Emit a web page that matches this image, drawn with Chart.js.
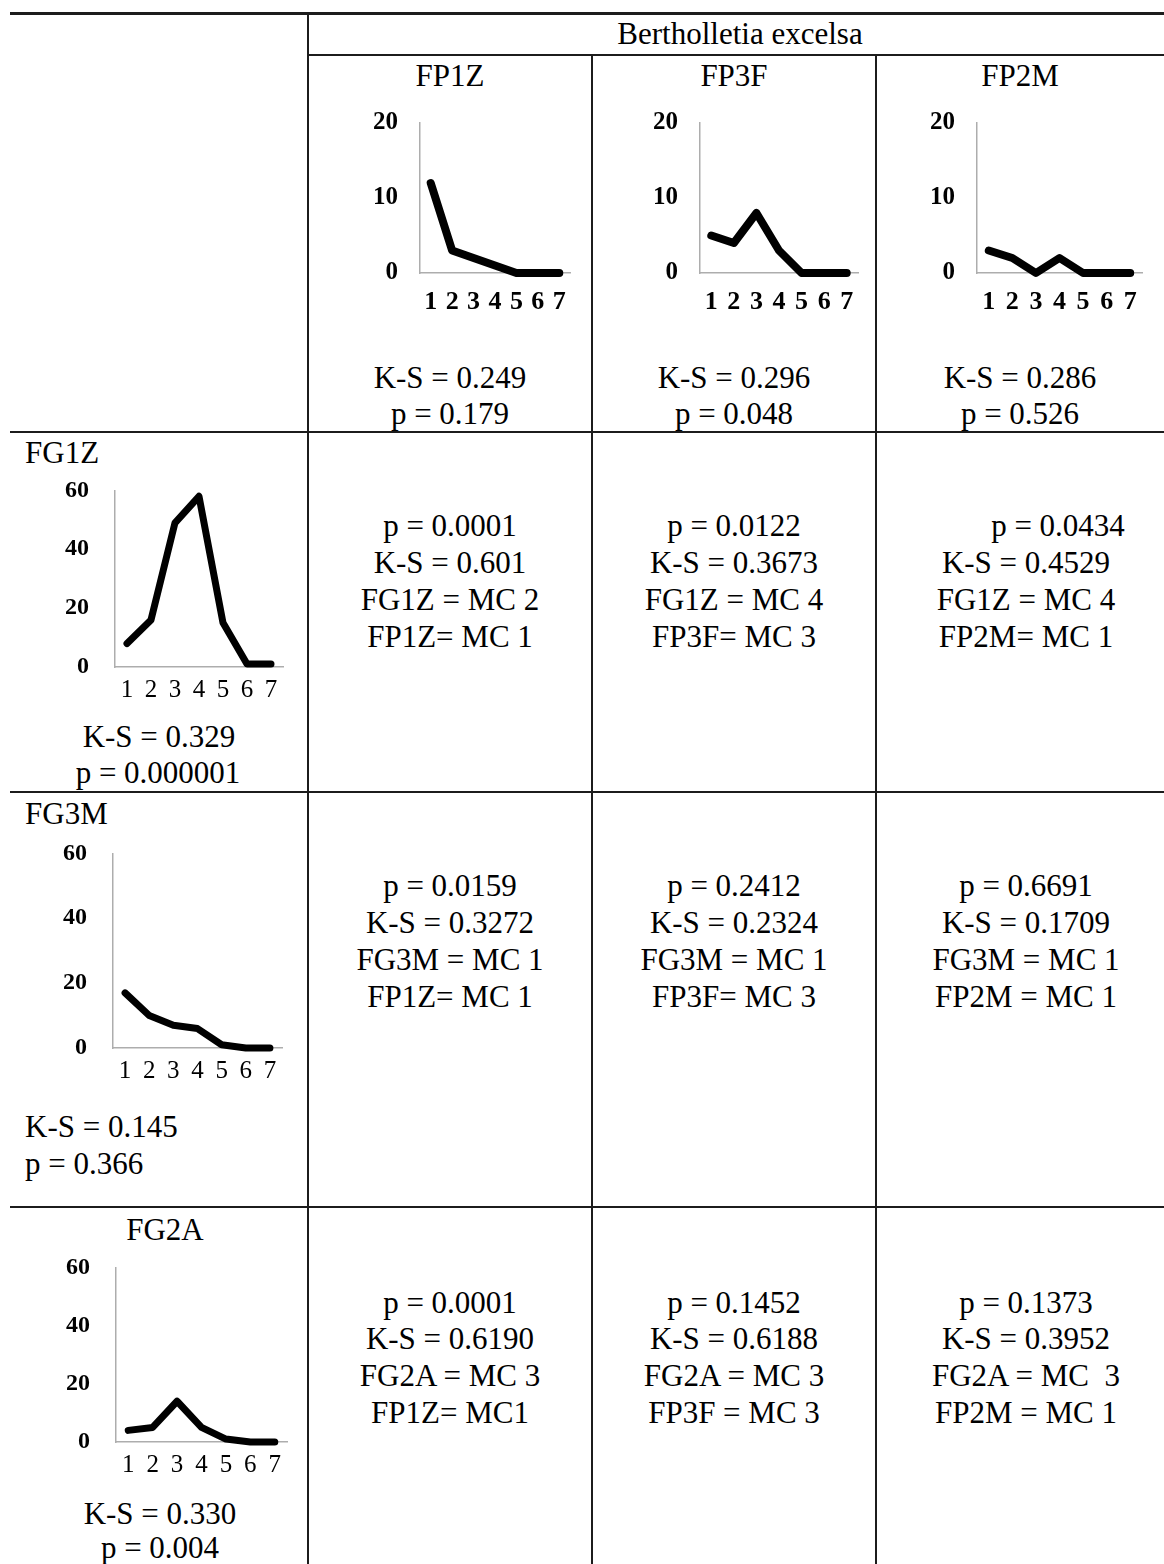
<!DOCTYPE html>
<html>
<head>
<meta charset="utf-8">
<script src="https://cdn.jsdelivr.net/npm/chart.js@4.4.1/dist/chart.umd.min.js"></script>
<style>
    body {
        margin: 0;
        width: 1164px;
        height: 1564px;
        overflow: hidden;
        background: #fff;
        position: relative;
        font-family: "Liberation Serif", "Times New Roman", serif;
        color: #000;
    }
    .t {
        position: absolute;
        font-size: 31px;
        line-height: 1;
        white-space: pre;
        transform: translate(-50%, -50%);
    }
    .t.left { transform: translate(0, -50%); }
    .rule { position: absolute; background: #1c1c1c; }
    .mini { position: absolute; }
</style>
</head>
<body>
<script>
    // Size classes 1..7 and counts per class
    let classes = ["1", "2", "3", "4", "5", "6", "7"];

    let fp1z = [12, 3, 2, 1, 0, 0, 0];
    let fp3f = [5, 4, 8, 3, 0, 0, 0];
    let fp2m = [3, 2, 0, 2, 0, 0, 0];

    let fg1z = [8, 16, 49, 58, 15, 1, 1];
    let fg3m = [17, 10, 7, 6, 1, 0, 0];
    let fg2a = [4, 5, 14, 5, 1, 0, 0];

    let fpTicks = [0, 10, 20];
    let fgTicks = [0, 20, 40, 60];

    // Test results
    let fpStats = [
        ["K-S = 0.249", "p = 0.179"],
        ["K-S = 0.296", "p = 0.048"],
        ["K-S = 0.286", "p = 0.526"]
    ];
    let fgStats = [
        ["K-S = 0.329", "p = 0.000001"],
        ["K-S = 0.145", "p = 0.366"],
        ["K-S = 0.330", "p = 0.004"]
    ];
    let pairStats = [
        [
            ["p = 0.0001", "K-S = 0.601", "FG1Z = MC 2", "FP1Z= MC 1"],
            ["p = 0.0122", "K-S = 0.3673", "FG1Z = MC 4", "FP3F= MC 3"],
            ["p = 0.0434", "K-S = 0.4529", "FG1Z = MC 4", "FP2M= MC 1"]
        ],
        [
            ["p = 0.0159", "K-S = 0.3272", "FG3M = MC 1", "FP1Z= MC 1"],
            ["p = 0.2412", "K-S = 0.2324", "FG3M = MC 1", "FP3F= MC 3"],
            ["p = 0.6691", "K-S = 0.1709", "FG3M = MC 1", "FP2M = MC 1"]
        ],
        [
            ["p = 0.0001", "K-S = 0.6190", "FG2A = MC 3", "FP1Z= MC1"],
            ["p = 0.1452", "K-S = 0.6188", "FG2A = MC 3", "FP3F = MC 3"],
            ["p = 0.1373", "K-S = 0.3952", "FG2A = MC  3", "FP2M = MC 1"]
        ]
    ];

    // Table rules
    function rule(x, y, w, h) {
        let d = document.createElement("div");
        d.className = "rule";
        d.style.left = x + "px";
        d.style.top = y + "px";
        d.style.width = w + "px";
        d.style.height = h + "px";
        document.body.appendChild(d);
    }

    rule(10, 12, 1154, 3);
    rule(308, 54, 856, 2);
    rule(10, 431, 1154, 2);
    rule(10, 791, 1154, 2);
    rule(10, 1206, 1154, 2);
    rule(307, 12, 2, 1552);
    rule(591, 54, 2, 1510);
    rule(875, 54, 2, 1510);

    function text(str, x, y, left) {
        let d = document.createElement("div");
        d.className = left ? "t left" : "t";
        d.textContent = str;
        d.style.left = x + "px";
        d.style.top = y + "px";
        document.body.appendChild(d);
    }

    // Header
    text("Bertholletia excelsa", 740, 33);
    let headX = [450, 734, 1020];
    ["FP1Z", "FP3F", "FP2M"].forEach(function (name, i) {
        text(name, headX[i], 75);
        text(fpStats[i][0], headX[i], 377);
        text(fpStats[i][1], headX[i], 413);
    });

    // Left column
    text("FG1Z", 25, 452, true);
    text(fgStats[0][0], 159, 736);
    text(fgStats[0][1], 158, 772);

    text("FG3M", 25, 813, true);
    text(fgStats[1][0], 25, 1126, true);
    text(fgStats[1][1], 25, 1163, true);

    text("FG2A", 165, 1229);
    text(fgStats[2][0], 160, 1513);
    text(fgStats[2][1], 160, 1547);

    // Pairwise comparisons
    let bodyX = [450, 734, 1026];
    let rowY = [[525, 562, 599, 636], [885, 922, 959, 996], [1302, 1338, 1375, 1412]];
    pairStats.forEach(function (row, r) {
        row.forEach(function (cell, c) {
            cell.forEach(function (line, k) {
                let x = bodyX[c];
                if (r === 0 && c === 2 && k === 0) x = 1058;
                text(line, x, rowY[r][k]);
            });
        });
    });

    // Mini line charts
    let Y_AXIS_W = 70;
    let X_AXIS_H = 50;
    let PAD_T = 20;
    let PAD_R = 12;

    function chartConfig(values, ticks, style) {
        return {
            type: "line",
            data: {
                labels: classes,
                datasets: [{
                    data: values,
                    borderColor: "#000",
                    borderWidth: style.lineWidth,
                    borderCapStyle: "round",
                    borderJoinStyle: "round",
                    pointRadius: 0,
                    tension: 0,
                    clip: false
                }]
            },
            options: {
                responsive: false,
                maintainAspectRatio: false,
                animation: false,
                events: [],
                layout: { padding: { top: PAD_T, right: PAD_R, left: 0, bottom: 0 } },
                plugins: { legend: { display: false }, tooltip: { enabled: false } },
                scales: {
                    x: {
                        type: "category",
                        offset: true,
                        grid: { display: false, drawTicks: false },
                        border: { display: true, color: "#adadad", width: 1.5 },
                        ticks: {
                            color: "#000",
                            autoSkip: false,
                            maxRotation: 0,
                            padding: style.xPad,
                            font: { family: "'Liberation Serif', serif", size: style.xSize, weight: style.xWeight }
                        },
                        afterFit: function (axis) { axis.height = X_AXIS_H; }
                    },
                    y: {
                        min: ticks[0],
                        max: ticks[ticks.length - 1],
                        grid: { display: false, drawTicks: false },
                        border: { display: true, color: "#adadad", width: 1.5 },
                        ticks: {
                            color: "#000",
                            padding: style.yPad,
                            font: { family: "'Liberation Serif', serif", size: style.ySize, weight: "bold" }
                        },
                        afterBuildTicks: function (axis) {
                            axis.ticks = ticks.map(function (v) { return { value: v }; });
                        },
                        afterFit: function (axis) { axis.width = Y_AXIS_W; }
                    }
                }
            }
        };
    }

    function miniChart(values, ticks, box, style) {
        let plotW = box.right - box.left;
        let plotH = box.bottom - box.top;
        let w = Y_AXIS_W + plotW + PAD_R;
        let h = PAD_T + plotH + X_AXIS_H;

        let canvas = document.createElement("canvas");
        canvas.className = "mini";
        document.body.appendChild(canvas);

        function build(cw, ch) {
            canvas.width = cw;
            canvas.height = ch;
            canvas.style.width = cw + "px";
            canvas.style.height = ch + "px";
            return new Chart(canvas.getContext("2d"), chartConfig(values, ticks, style));
        }

        // first pass measures the plot area, second pass sizes the canvas to fit it
        let chart = build(w, h);
        let a = chart.chartArea;
        let dw = plotW - (a.right - a.left);
        let dh = plotH - (a.bottom - a.top);
        if (dw !== 0 || dh !== 0) {
            chart.destroy();
            chart = build(w + dw, h + dh);
            a = chart.chartArea;
        }
        canvas.style.left = (box.left - a.left) + "px";
        canvas.style.top = (box.top - a.top) + "px";
    }

    let fpStyle = { lineWidth: 8, xPad: 14, xSize: 26, xWeight: "bold", yPad: 22, ySize: 25 };
    let fgStyle = { lineWidth: 7, xPad: 8, xSize: 25, xWeight: "normal", yPad: 26, ySize: 24 };

    miniChart(fp1z, fpTicks, { left: 420, right: 570, top: 123, bottom: 273 }, fpStyle);
    miniChart(fp3f, fpTicks, { left: 700, right: 858, top: 123, bottom: 273 }, fpStyle);
    miniChart(fp2m, fpTicks, { left: 977, right: 1142, top: 123, bottom: 273 }, fpStyle);

    miniChart(fg1z, fgTicks, { left: 115, right: 283, top: 490, bottom: 667 }, fgStyle);
    miniChart(fg3m, fgTicks, { left: 113, right: 282, top: 853, bottom: 1048 }, fgStyle);
    miniChart(fg2a, fgTicks, { left: 116, right: 287, top: 1267, bottom: 1442 }, fgStyle);
</script>
</body>
</html>
